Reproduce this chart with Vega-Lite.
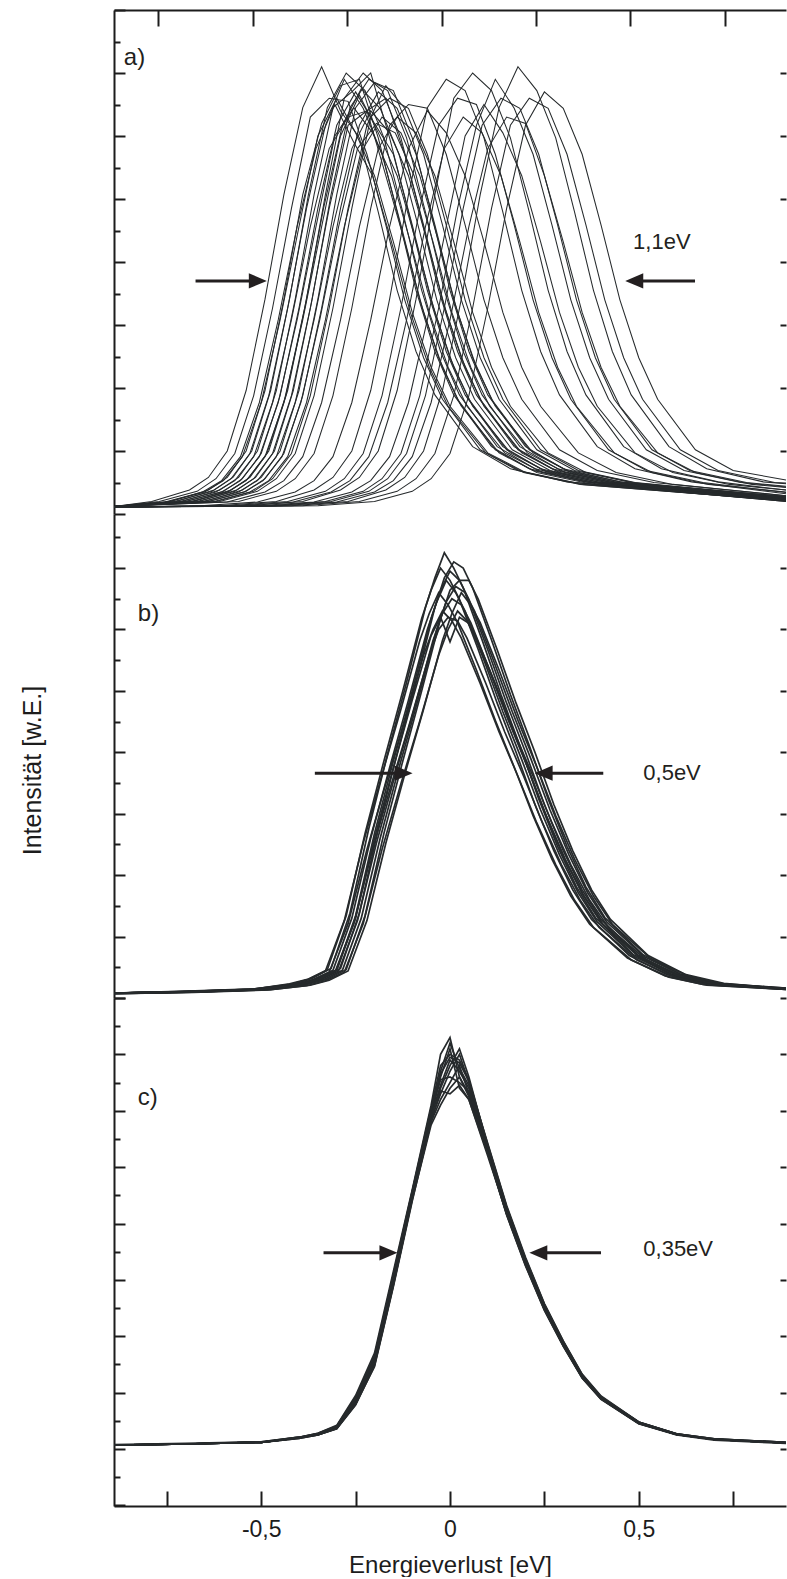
{
"$schema": "https://vega.github.io/schema/vega-lite/v6.json",
"background": "white",
"padding": {"left": 20, "top": 9, "right": 0, "bottom": 0},
"spacing": 0,
"bounds": "flush",
"config": {
  "view": {"stroke": null},
  "font": "Liberation Sans",
  "axis": {"grid": false, "domainColor": "#1c1c1c", "domainWidth": 2, "tickColor": "#1c1c1c", "tickWidth": 2, "labelColor": "#1c1c1c", "titleColor": "#1c1c1c", "titleFontWeight": "normal", "labelFont": "Liberation Sans", "titleFont": "Liberation Sans"}
},
"datasets": {
"txt": [
 {"p":"a","k":"p","x":-0.864,"y":72.4,"t":"a)"},
 {"p":"a","k":"w","x":0.485,"y":43.2,"t":"1,1eV"},
 {"p":"b","k":"p","x":-0.827,"y":62.5,"t":"b)"},
 {"p":"b","k":"w","x":0.512,"y":36.6,"t":"0,5eV"},
 {"p":"c","k":"p","x":-0.827,"y":62.2,"t":"c)"},
 {"p":"c","k":"w","x":0.512,"y":35.5,"t":"0,35eV"}
],
"arr": [
 {"p":"a","x1":-0.674,"x2":-0.509,"y":37,"dir":"r"},
 {"p":"a","x1":0.649,"x2":0.488,"y":37,"dir":"l"},
 {"p":"b","x1":-0.358,"x2":-0.123,"y":36.6,"dir":"r"},
 {"p":"b","x1":0.406,"x2":0.248,"y":36.6,"dir":"l"},
 {"p":"c","x1":-0.335,"x2":-0.163,"y":34.8,"dir":"r"},
 {"p":"c","x1":0.40,"x2":0.234,"y":34.8,"dir":"l"}
],
"a": [
{"c":1,"x":-0.89,"y":1.2},{"c":1,"x":-0.79,"y":2.0},{"c":1,"x":-0.69,"y":3.8},{"c":1,"x":-0.64,"y":5.8},{"c":1,"x":-0.59,"y":10},{"c":1,"x":-0.54,"y":19.6},{"c":1,"x":-0.49,"y":34.1},{"c":1,"x":-0.44,"y":50.7},{"c":1,"x":-0.39,"y":64.5},{"c":1,"x":-0.34,"y":71},{"c":1,"x":-0.29,"y":64},{"c":1,"x":-0.24,"y":59.7},{"c":1,"x":-0.19,"y":47.9},{"c":1,"x":-0.14,"y":35.5},{"c":1,"x":-0.09,"y":25.8},{"c":1,"x":-0.04,"y":18.9},{"c":1,"x":0.06,"y":10.7},{"c":1,"x":0.16,"y":7.2},{"c":1,"x":0.31,"y":5.1},{"c":1,"x":0.89,"y":2.0},
{"c":2,"x":-0.89,"y":1.2},{"c":2,"x":-0.77,"y":2.0},{"c":2,"x":-0.67,"y":3.6},{"c":2,"x":-0.62,"y":5.6},{"c":2,"x":-0.57,"y":9.6},{"c":2,"x":-0.52,"y":18.8},{"c":2,"x":-0.47,"y":32.7},{"c":2,"x":-0.42,"y":48.5},{"c":2,"x":-0.37,"y":63},{"c":2,"x":-0.32,"y":66},{"c":2,"x":-0.27,"y":65.5},{"c":2,"x":-0.22,"y":57.1},{"c":2,"x":-0.17,"y":45.9},{"c":2,"x":-0.12,"y":34},{"c":2,"x":-0.07,"y":24.8},{"c":2,"x":-0.02,"y":18.2},{"c":2,"x":0.08,"y":10.2},{"c":2,"x":0.18,"y":6.9},{"c":2,"x":0.33,"y":5.0},{"c":2,"x":0.89,"y":2.0},
{"c":3,"x":-0.89,"y":1.2},{"c":3,"x":-0.75,"y":1.9},{"c":3,"x":-0.65,"y":3.5},{"c":3,"x":-0.6,"y":5.3},{"c":3,"x":-0.55,"y":9.1},{"c":3,"x":-0.5,"y":17.7},{"c":3,"x":-0.45,"y":30.8},{"c":3,"x":-0.4,"y":45.6},{"c":3,"x":-0.35,"y":60},{"c":3,"x":-0.3,"y":66},{"c":3,"x":-0.25,"y":60.5},{"c":3,"x":-0.2,"y":53.7},{"c":3,"x":-0.15,"y":43.2},{"c":3,"x":-0.1,"y":32},{"c":3,"x":-0.05,"y":23.3},{"c":3,"x":0,"y":17.1},{"c":3,"x":0.1,"y":9.7},{"c":3,"x":0.2,"y":6.6},{"c":3,"x":0.35,"y":4.7},{"c":3,"x":0.89,"y":2.1},
{"c":4,"x":-0.89,"y":1.2},{"c":4,"x":-0.74,"y":2.0},{"c":4,"x":-0.64,"y":3.8},{"c":4,"x":-0.59,"y":5.8},{"c":4,"x":-0.54,"y":10},{"c":4,"x":-0.49,"y":19.6},{"c":4,"x":-0.44,"y":34.1},{"c":4,"x":-0.39,"y":50.7},{"c":4,"x":-0.34,"y":62},{"c":4,"x":-0.29,"y":68},{"c":4,"x":-0.24,"y":69},{"c":4,"x":-0.19,"y":59.7},{"c":4,"x":-0.14,"y":47.9},{"c":4,"x":-0.09,"y":35.5},{"c":4,"x":-0.04,"y":25.8},{"c":4,"x":0.01,"y":18.9},{"c":4,"x":0.11,"y":10.7},{"c":4,"x":0.21,"y":7.2},{"c":4,"x":0.36,"y":5.1},{"c":4,"x":0.89,"y":2.2},
{"c":5,"x":-0.89,"y":1.2},{"c":5,"x":-0.73,"y":2.0},{"c":5,"x":-0.63,"y":3.6},{"c":5,"x":-0.58,"y":5.6},{"c":5,"x":-0.53,"y":9.6},{"c":5,"x":-0.48,"y":18.8},{"c":5,"x":-0.43,"y":32.7},{"c":5,"x":-0.38,"y":48.5},{"c":5,"x":-0.33,"y":61.7},{"c":5,"x":-0.28,"y":69},{"c":5,"x":-0.23,"y":64.4},{"c":5,"x":-0.18,"y":57.1},{"c":5,"x":-0.13,"y":45.9},{"c":5,"x":-0.08,"y":34},{"c":5,"x":-0.03,"y":24.8},{"c":5,"x":0.02,"y":18.2},{"c":5,"x":0.12,"y":10.2},{"c":5,"x":0.22,"y":6.9},{"c":5,"x":0.37,"y":5.0},{"c":5,"x":0.89,"y":2.2},
{"c":6,"x":-0.89,"y":1.2},{"c":6,"x":-0.72,"y":1.9},{"c":6,"x":-0.62,"y":3.5},{"c":6,"x":-0.57,"y":5.3},{"c":6,"x":-0.52,"y":9.1},{"c":6,"x":-0.47,"y":17.7},{"c":6,"x":-0.42,"y":30.8},{"c":6,"x":-0.37,"y":45.6},{"c":6,"x":-0.32,"y":58},{"c":6,"x":-0.27,"y":63},{"c":6,"x":-0.22,"y":64},{"c":6,"x":-0.17,"y":53.7},{"c":6,"x":-0.12,"y":43.2},{"c":6,"x":-0.07,"y":32},{"c":6,"x":-0.02,"y":23.3},{"c":6,"x":0.03,"y":17.1},{"c":6,"x":0.13,"y":9.7},{"c":6,"x":0.23,"y":6.6},{"c":6,"x":0.38,"y":4.7},{"c":6,"x":0.89,"y":2.2},
{"c":7,"x":-0.89,"y":1.2},{"c":7,"x":-0.71,"y":2.0},{"c":7,"x":-0.61,"y":3.8},{"c":7,"x":-0.56,"y":5.8},{"c":7,"x":-0.51,"y":10},{"c":7,"x":-0.46,"y":19.6},{"c":7,"x":-0.41,"y":34.1},{"c":7,"x":-0.36,"y":50.7},{"c":7,"x":-0.31,"y":64.5},{"c":7,"x":-0.26,"y":67},{"c":7,"x":-0.21,"y":70},{"c":7,"x":-0.16,"y":59.7},{"c":7,"x":-0.11,"y":47.9},{"c":7,"x":-0.06,"y":35.5},{"c":7,"x":-0.01,"y":25.8},{"c":7,"x":0.04,"y":18.9},{"c":7,"x":0.14,"y":10.7},{"c":7,"x":0.24,"y":7.2},{"c":7,"x":0.39,"y":5.1},{"c":7,"x":0.89,"y":2.3},
{"c":8,"x":-0.89,"y":1.2},{"c":8,"x":-0.7,"y":2.0},{"c":8,"x":-0.6,"y":3.6},{"c":8,"x":-0.55,"y":5.6},{"c":8,"x":-0.5,"y":9.6},{"c":8,"x":-0.45,"y":18.8},{"c":8,"x":-0.4,"y":32.7},{"c":8,"x":-0.35,"y":48.5},{"c":8,"x":-0.3,"y":61.7},{"c":8,"x":-0.25,"y":67},{"c":8,"x":-0.2,"y":62},{"c":8,"x":-0.15,"y":57.1},{"c":8,"x":-0.1,"y":45.9},{"c":8,"x":-0.05,"y":34},{"c":8,"x":0,"y":24.8},{"c":8,"x":0.05,"y":18.2},{"c":8,"x":0.15,"y":10.2},{"c":8,"x":0.25,"y":6.9},{"c":8,"x":0.4,"y":5.0},{"c":8,"x":0.89,"y":2.3},
{"c":9,"x":-0.89,"y":1.2},{"c":9,"x":-0.69,"y":1.9},{"c":9,"x":-0.59,"y":3.5},{"c":9,"x":-0.54,"y":5.3},{"c":9,"x":-0.49,"y":9.1},{"c":9,"x":-0.44,"y":17.7},{"c":9,"x":-0.39,"y":30.8},{"c":9,"x":-0.34,"y":45.6},{"c":9,"x":-0.29,"y":60},{"c":9,"x":-0.24,"y":66.5},{"c":9,"x":-0.19,"y":60.5},{"c":9,"x":-0.14,"y":53.7},{"c":9,"x":-0.09,"y":43.2},{"c":9,"x":-0.04,"y":32},{"c":9,"x":0.01,"y":23.3},{"c":9,"x":0.06,"y":17.1},{"c":9,"x":0.16,"y":9.7},{"c":9,"x":0.26,"y":6.6},{"c":9,"x":0.41,"y":4.7},{"c":9,"x":0.89,"y":2.3},
{"c":10,"x":-0.89,"y":1.2},{"c":10,"x":-0.68,"y":2.0},{"c":10,"x":-0.58,"y":3.8},{"c":10,"x":-0.53,"y":5.8},{"c":10,"x":-0.48,"y":10},{"c":10,"x":-0.43,"y":19.6},{"c":10,"x":-0.38,"y":34.1},{"c":10,"x":-0.33,"y":50.7},{"c":10,"x":-0.28,"y":66},{"c":10,"x":-0.23,"y":70},{"c":10,"x":-0.18,"y":67.2},{"c":10,"x":-0.13,"y":59.7},{"c":10,"x":-0.08,"y":47.9},{"c":10,"x":-0.03,"y":35.5},{"c":10,"x":0.02,"y":25.8},{"c":10,"x":0.07,"y":18.9},{"c":10,"x":0.17,"y":10.7},{"c":10,"x":0.27,"y":7.2},{"c":10,"x":0.42,"y":5.1},{"c":10,"x":0.89,"y":2.4},
{"c":11,"x":-0.89,"y":1.2},{"c":11,"x":-0.67,"y":2.0},{"c":11,"x":-0.57,"y":3.6},{"c":11,"x":-0.52,"y":5.6},{"c":11,"x":-0.47,"y":9.6},{"c":11,"x":-0.42,"y":18.8},{"c":11,"x":-0.37,"y":32.7},{"c":11,"x":-0.32,"y":48.5},{"c":11,"x":-0.27,"y":61.7},{"c":11,"x":-0.22,"y":64},{"c":11,"x":-0.17,"y":66},{"c":11,"x":-0.12,"y":57.1},{"c":11,"x":-0.07,"y":45.9},{"c":11,"x":-0.02,"y":34},{"c":11,"x":0.03,"y":24.8},{"c":11,"x":0.08,"y":18.2},{"c":11,"x":0.18,"y":10.2},{"c":11,"x":0.28,"y":6.9},{"c":11,"x":0.43,"y":5.0},{"c":11,"x":0.89,"y":2.4},
{"c":12,"x":-0.89,"y":1.2},{"c":12,"x":-0.66,"y":1.9},{"c":12,"x":-0.56,"y":3.5},{"c":12,"x":-0.51,"y":5.3},{"c":12,"x":-0.46,"y":9.1},{"c":12,"x":-0.41,"y":17.7},{"c":12,"x":-0.36,"y":30.8},{"c":12,"x":-0.31,"y":45.6},{"c":12,"x":-0.26,"y":58},{"c":12,"x":-0.21,"y":64},{"c":12,"x":-0.16,"y":60.5},{"c":12,"x":-0.11,"y":53.7},{"c":12,"x":-0.06,"y":43.2},{"c":12,"x":-0.01,"y":32},{"c":12,"x":0.04,"y":23.3},{"c":12,"x":0.09,"y":17.1},{"c":12,"x":0.19,"y":9.7},{"c":12,"x":0.29,"y":6.6},{"c":12,"x":0.44,"y":4.7},{"c":12,"x":0.89,"y":2.5},
{"c":13,"x":-0.89,"y":1.2},{"c":13,"x":-0.65,"y":2.0},{"c":13,"x":-0.55,"y":3.8},{"c":13,"x":-0.5,"y":5.8},{"c":13,"x":-0.45,"y":10},{"c":13,"x":-0.4,"y":19.6},{"c":13,"x":-0.35,"y":34.1},{"c":13,"x":-0.3,"y":50.7},{"c":13,"x":-0.25,"y":64.5},{"c":13,"x":-0.2,"y":68.5},{"c":13,"x":-0.15,"y":67.2},{"c":13,"x":-0.1,"y":59.7},{"c":13,"x":-0.05,"y":47.9},{"c":13,"x":0,"y":35.5},{"c":13,"x":0.05,"y":25.8},{"c":13,"x":0.1,"y":18.9},{"c":13,"x":0.2,"y":10.7},{"c":13,"x":0.3,"y":7.2},{"c":13,"x":0.45,"y":5.1},{"c":13,"x":0.89,"y":2.5},
{"c":14,"x":-0.89,"y":1.2},{"c":14,"x":-0.64,"y":2.0},{"c":14,"x":-0.54,"y":3.6},{"c":14,"x":-0.49,"y":5.6},{"c":14,"x":-0.44,"y":9.6},{"c":14,"x":-0.39,"y":18.8},{"c":14,"x":-0.34,"y":32.7},{"c":14,"x":-0.29,"y":48.5},{"c":14,"x":-0.24,"y":61.7},{"c":14,"x":-0.19,"y":67},{"c":14,"x":-0.14,"y":64.4},{"c":14,"x":-0.09,"y":57.1},{"c":14,"x":-0.04,"y":45.9},{"c":14,"x":0.01,"y":34},{"c":14,"x":0.06,"y":24.8},{"c":14,"x":0.11,"y":18.2},{"c":14,"x":0.21,"y":10.2},{"c":14,"x":0.31,"y":6.9},{"c":14,"x":0.46,"y":5.0},{"c":14,"x":0.89,"y":2.6},
{"c":15,"x":-0.89,"y":1.2},{"c":15,"x":-0.63,"y":1.9},{"c":15,"x":-0.53,"y":3.5},{"c":15,"x":-0.48,"y":5.3},{"c":15,"x":-0.43,"y":9.1},{"c":15,"x":-0.38,"y":17.7},{"c":15,"x":-0.33,"y":30.8},{"c":15,"x":-0.28,"y":45.6},{"c":15,"x":-0.23,"y":58},{"c":15,"x":-0.18,"y":63},{"c":15,"x":-0.13,"y":60.5},{"c":15,"x":-0.08,"y":53.7},{"c":15,"x":-0.03,"y":43.2},{"c":15,"x":0.02,"y":32},{"c":15,"x":0.07,"y":23.3},{"c":15,"x":0.12,"y":17.1},{"c":15,"x":0.22,"y":9.7},{"c":15,"x":0.32,"y":6.6},{"c":15,"x":0.47,"y":4.7},{"c":15,"x":0.89,"y":2.6},
{"c":16,"x":-0.89,"y":1.2},{"c":16,"x":-0.61,"y":2.0},{"c":16,"x":-0.51,"y":3.6},{"c":16,"x":-0.46,"y":5.6},{"c":16,"x":-0.41,"y":9.6},{"c":16,"x":-0.36,"y":18.8},{"c":16,"x":-0.31,"y":32.7},{"c":16,"x":-0.26,"y":48.5},{"c":16,"x":-0.21,"y":63},{"c":16,"x":-0.16,"y":66},{"c":16,"x":-0.11,"y":64.4},{"c":16,"x":-0.06,"y":57.1},{"c":16,"x":-0.01,"y":45.9},{"c":16,"x":0.04,"y":34},{"c":16,"x":0.09,"y":24.8},{"c":16,"x":0.14,"y":18.2},{"c":16,"x":0.24,"y":10.2},{"c":16,"x":0.34,"y":6.9},{"c":16,"x":0.49,"y":5.0},{"c":16,"x":0.89,"y":2.7},
{"c":17,"x":-0.89,"y":1.2},{"c":17,"x":-0.59,"y":1.9},{"c":17,"x":-0.49,"y":3.5},{"c":17,"x":-0.44,"y":5.3},{"c":17,"x":-0.39,"y":9.1},{"c":17,"x":-0.34,"y":17.7},{"c":17,"x":-0.29,"y":30.8},{"c":17,"x":-0.24,"y":45.6},{"c":17,"x":-0.19,"y":58},{"c":17,"x":-0.14,"y":63},{"c":17,"x":-0.09,"y":60.5},{"c":17,"x":-0.04,"y":53.7},{"c":17,"x":0.01,"y":43.2},{"c":17,"x":0.06,"y":32},{"c":17,"x":0.11,"y":23.3},{"c":17,"x":0.16,"y":17.1},{"c":17,"x":0.26,"y":9.7},{"c":17,"x":0.36,"y":6.6},{"c":17,"x":0.51,"y":4.7},{"c":17,"x":0.89,"y":2.8},
{"c":18,"x":-0.89,"y":1.2},{"c":18,"x":-0.56,"y":2.0},{"c":18,"x":-0.46,"y":3.6},{"c":18,"x":-0.41,"y":5.6},{"c":18,"x":-0.36,"y":9.6},{"c":18,"x":-0.31,"y":18.8},{"c":18,"x":-0.26,"y":32.7},{"c":18,"x":-0.21,"y":48.5},{"c":18,"x":-0.16,"y":61.7},{"c":18,"x":-0.11,"y":65},{"c":18,"x":-0.06,"y":64.4},{"c":18,"x":-0.01,"y":57.1},{"c":18,"x":0.04,"y":45.9},{"c":18,"x":0.09,"y":34},{"c":18,"x":0.14,"y":24.8},{"c":18,"x":0.19,"y":18.2},{"c":18,"x":0.29,"y":10.2},{"c":18,"x":0.39,"y":6.9},{"c":18,"x":0.54,"y":5.0},{"c":18,"x":0.89,"y":2.9},
{"c":19,"x":-0.89,"y":1.1},{"c":19,"x":-0.66,"y":1.3},{"c":19,"x":-0.51,"y":1.9},{"c":19,"x":-0.41,"y":3.5},{"c":19,"x":-0.36,"y":5.3},{"c":19,"x":-0.31,"y":9.1},{"c":19,"x":-0.26,"y":17.7},{"c":19,"x":-0.21,"y":30.8},{"c":19,"x":-0.16,"y":45.6},{"c":19,"x":-0.11,"y":58},{"c":19,"x":-0.06,"y":64},{"c":19,"x":-0.01,"y":60.5},{"c":19,"x":0.04,"y":53.7},{"c":19,"x":0.09,"y":43.2},{"c":19,"x":0.14,"y":32},{"c":19,"x":0.19,"y":23.3},{"c":19,"x":0.24,"y":17.1},{"c":19,"x":0.34,"y":9.7},{"c":19,"x":0.44,"y":6.6},{"c":19,"x":0.59,"y":4.7},{"c":19,"x":0.89,"y":2.9},
{"c":20,"x":-0.89,"y":1.1},{"c":20,"x":-0.61,"y":1.3},{"c":20,"x":-0.46,"y":2.0},{"c":20,"x":-0.36,"y":3.8},{"c":20,"x":-0.31,"y":5.8},{"c":20,"x":-0.26,"y":10},{"c":20,"x":-0.21,"y":19.6},{"c":20,"x":-0.16,"y":34.1},{"c":20,"x":-0.11,"y":50.7},{"c":20,"x":-0.06,"y":64.5},{"c":20,"x":-0.01,"y":69},{"c":20,"x":0.04,"y":67.2},{"c":20,"x":0.09,"y":59.7},{"c":20,"x":0.14,"y":47.9},{"c":20,"x":0.19,"y":35.5},{"c":20,"x":0.24,"y":25.8},{"c":20,"x":0.29,"y":18.9},{"c":20,"x":0.39,"y":10.7},{"c":20,"x":0.49,"y":7.2},{"c":20,"x":0.64,"y":5.1},{"c":20,"x":0.89,"y":3.2},
{"c":21,"x":-0.89,"y":1.1},{"c":21,"x":-0.58,"y":1.3},{"c":21,"x":-0.43,"y":2.0},{"c":21,"x":-0.33,"y":3.6},{"c":21,"x":-0.28,"y":5.6},{"c":21,"x":-0.23,"y":9.6},{"c":21,"x":-0.18,"y":18.8},{"c":21,"x":-0.13,"y":32.7},{"c":21,"x":-0.08,"y":48.5},{"c":21,"x":-0.03,"y":61.7},{"c":21,"x":0.02,"y":66},{"c":21,"x":0.07,"y":65},{"c":21,"x":0.12,"y":57.1},{"c":21,"x":0.17,"y":45.9},{"c":21,"x":0.22,"y":34},{"c":21,"x":0.27,"y":24.8},{"c":21,"x":0.32,"y":18.2},{"c":21,"x":0.42,"y":10.2},{"c":21,"x":0.52,"y":6.9},{"c":21,"x":0.67,"y":5.0},{"c":21,"x":0.89,"y":3.4},
{"c":22,"x":-0.89,"y":1.1},{"c":22,"x":-0.54,"y":1.3},{"c":22,"x":-0.39,"y":2.0},{"c":22,"x":-0.29,"y":3.8},{"c":22,"x":-0.24,"y":5.8},{"c":22,"x":-0.19,"y":10},{"c":22,"x":-0.14,"y":19.6},{"c":22,"x":-0.09,"y":34.1},{"c":22,"x":-0.04,"y":50.7},{"c":22,"x":0.01,"y":66},{"c":22,"x":0.06,"y":70},{"c":22,"x":0.11,"y":67.2},{"c":22,"x":0.16,"y":59.7},{"c":22,"x":0.21,"y":47.9},{"c":22,"x":0.26,"y":35.5},{"c":22,"x":0.31,"y":25.8},{"c":22,"x":0.36,"y":18.9},{"c":22,"x":0.46,"y":10.7},{"c":22,"x":0.56,"y":7.2},{"c":22,"x":0.71,"y":5.1},{"c":22,"x":0.89,"y":3.8},
{"c":23,"x":-0.89,"y":1.1},{"c":23,"x":-0.51,"y":1.3},{"c":23,"x":-0.36,"y":1.9},{"c":23,"x":-0.26,"y":3.5},{"c":23,"x":-0.21,"y":5.3},{"c":23,"x":-0.16,"y":9.1},{"c":23,"x":-0.11,"y":17.7},{"c":23,"x":-0.06,"y":30.8},{"c":23,"x":-0.01,"y":45.6},{"c":23,"x":0.04,"y":60},{"c":23,"x":0.09,"y":65},{"c":23,"x":0.14,"y":60.5},{"c":23,"x":0.19,"y":53.7},{"c":23,"x":0.24,"y":43.2},{"c":23,"x":0.29,"y":32},{"c":23,"x":0.34,"y":23.3},{"c":23,"x":0.39,"y":17.1},{"c":23,"x":0.49,"y":9.7},{"c":23,"x":0.59,"y":6.6},{"c":23,"x":0.74,"y":4.7},{"c":23,"x":0.89,"y":3.8},
{"c":24,"x":-0.89,"y":1.1},{"c":24,"x":-0.48,"y":1.3},{"c":24,"x":-0.33,"y":2.0},{"c":24,"x":-0.23,"y":3.6},{"c":24,"x":-0.18,"y":5.6},{"c":24,"x":-0.13,"y":9.6},{"c":24,"x":-0.08,"y":18.8},{"c":24,"x":-0.03,"y":32.7},{"c":24,"x":0.02,"y":48.5},{"c":24,"x":0.07,"y":61.7},{"c":24,"x":0.12,"y":69},{"c":24,"x":0.17,"y":64.4},{"c":24,"x":0.22,"y":57.1},{"c":24,"x":0.27,"y":45.9},{"c":24,"x":0.32,"y":34},{"c":24,"x":0.37,"y":24.8},{"c":24,"x":0.42,"y":18.2},{"c":24,"x":0.52,"y":10.2},{"c":24,"x":0.62,"y":6.9},{"c":24,"x":0.77,"y":5.0},{"c":24,"x":0.89,"y":4.3},
{"c":25,"x":-0.89,"y":1.1},{"c":25,"x":-0.45,"y":1.3},{"c":25,"x":-0.3,"y":1.9},{"c":25,"x":-0.2,"y":3.5},{"c":25,"x":-0.15,"y":5.3},{"c":25,"x":-0.1,"y":9.1},{"c":25,"x":-0.05,"y":17.7},{"c":25,"x":0,"y":30.8},{"c":25,"x":0.05,"y":45.6},{"c":25,"x":0.1,"y":58},{"c":25,"x":0.15,"y":63},{"c":25,"x":0.2,"y":62},{"c":25,"x":0.25,"y":53.7},{"c":25,"x":0.3,"y":43.2},{"c":25,"x":0.35,"y":32},{"c":25,"x":0.4,"y":23.3},{"c":25,"x":0.45,"y":17.1},{"c":25,"x":0.55,"y":9.7},{"c":25,"x":0.65,"y":6.6},{"c":25,"x":0.8,"y":4.7},{"c":25,"x":0.89,"y":4.2},
{"c":26,"x":-0.89,"y":1.1},{"c":26,"x":-0.42,"y":1.3},{"c":26,"x":-0.27,"y":2.0},{"c":26,"x":-0.17,"y":3.8},{"c":26,"x":-0.12,"y":5.8},{"c":26,"x":-0.07,"y":10},{"c":26,"x":-0.02,"y":19.6},{"c":26,"x":0.03,"y":34.1},{"c":26,"x":0.08,"y":50.7},{"c":26,"x":0.13,"y":64.5},{"c":26,"x":0.18,"y":71},{"c":26,"x":0.23,"y":67.2},{"c":26,"x":0.28,"y":59.7},{"c":26,"x":0.33,"y":47.9},{"c":26,"x":0.38,"y":35.5},{"c":26,"x":0.43,"y":25.8},{"c":26,"x":0.48,"y":18.9},{"c":26,"x":0.58,"y":10.7},{"c":26,"x":0.68,"y":7.2},{"c":26,"x":0.83,"y":5.1},{"c":26,"x":0.89,"y":4.8},
{"c":27,"x":-0.89,"y":1.1},{"c":27,"x":-0.39,"y":1.3},{"c":27,"x":-0.24,"y":2.0},{"c":27,"x":-0.14,"y":3.6},{"c":27,"x":-0.09,"y":5.6},{"c":27,"x":-0.04,"y":9.6},{"c":27,"x":0.01,"y":18.8},{"c":27,"x":0.06,"y":32.7},{"c":27,"x":0.11,"y":48.5},{"c":27,"x":0.16,"y":61.7},{"c":27,"x":0.21,"y":66},{"c":27,"x":0.26,"y":64.4},{"c":27,"x":0.31,"y":57.1},{"c":27,"x":0.36,"y":45.9},{"c":27,"x":0.41,"y":34},{"c":27,"x":0.46,"y":24.8},{"c":27,"x":0.51,"y":18.2},{"c":27,"x":0.61,"y":10.2},{"c":27,"x":0.71,"y":6.9},{"c":27,"x":0.86,"y":5.0},{"c":27,"x":0.89,"y":4.9},
{"c":28,"x":-0.89,"y":1.1},{"c":28,"x":-0.35,"y":1.3},{"c":28,"x":-0.2,"y":2.0},{"c":28,"x":-0.1,"y":3.6},{"c":28,"x":-0.05,"y":5.6},{"c":28,"x":0,"y":9.6},{"c":28,"x":0.05,"y":18.8},{"c":28,"x":0.1,"y":32.7},{"c":28,"x":0.15,"y":48.5},{"c":28,"x":0.2,"y":61.7},{"c":28,"x":0.25,"y":67},{"c":28,"x":0.3,"y":64.4},{"c":28,"x":0.35,"y":57.1},{"c":28,"x":0.4,"y":45.9},{"c":28,"x":0.45,"y":34},{"c":28,"x":0.5,"y":24.8},{"c":28,"x":0.55,"y":18.2},{"c":28,"x":0.65,"y":10.2},{"c":28,"x":0.75,"y":6.9},{"c":28,"x":0.89,"y":5.4},
{"c":29,"x":-0.89,"y":1.2},{"c":29,"x":-0.755,"y":1.9},{"c":29,"x":-0.655,"y":3.5},{"c":29,"x":-0.605,"y":5.3},{"c":29,"x":-0.555,"y":9.1},{"c":29,"x":-0.505,"y":17.7},{"c":29,"x":-0.455,"y":30.8},{"c":29,"x":-0.405,"y":45.6},{"c":29,"x":-0.355,"y":58},{"c":29,"x":-0.305,"y":65},{"c":29,"x":-0.255,"y":59},{"c":29,"x":-0.205,"y":53.7},{"c":29,"x":-0.155,"y":43.2},{"c":29,"x":-0.105,"y":32},{"c":29,"x":-0.055,"y":23.3},{"c":29,"x":-0.005,"y":17.1},{"c":29,"x":0.095,"y":9.7},{"c":29,"x":0.195,"y":6.6},{"c":29,"x":0.345,"y":4.7},{"c":29,"x":0.89,"y":2.1},
{"c":30,"x":-0.89,"y":1.2},{"c":30,"x":-0.725,"y":2.0},{"c":30,"x":-0.625,"y":3.8},{"c":30,"x":-0.575,"y":5.8},{"c":30,"x":-0.525,"y":10},{"c":30,"x":-0.475,"y":19.6},{"c":30,"x":-0.425,"y":34.1},{"c":30,"x":-0.375,"y":50.7},{"c":30,"x":-0.325,"y":64.5},{"c":30,"x":-0.275,"y":70},{"c":30,"x":-0.225,"y":67.2},{"c":30,"x":-0.175,"y":59.7},{"c":30,"x":-0.125,"y":47.9},{"c":30,"x":-0.075,"y":35.5},{"c":30,"x":-0.025,"y":25.8},{"c":30,"x":0.025,"y":18.9},{"c":30,"x":0.125,"y":10.7},{"c":30,"x":0.225,"y":7.2},{"c":30,"x":0.375,"y":5.1},{"c":30,"x":0.89,"y":2.2},
{"c":31,"x":-0.89,"y":1.2},{"c":31,"x":-0.705,"y":1.9},{"c":31,"x":-0.605,"y":3.5},{"c":31,"x":-0.555,"y":5.3},{"c":31,"x":-0.505,"y":9.1},{"c":31,"x":-0.455,"y":17.7},{"c":31,"x":-0.405,"y":30.8},{"c":31,"x":-0.355,"y":45.6},{"c":31,"x":-0.305,"y":60},{"c":31,"x":-0.255,"y":64.5},{"c":31,"x":-0.205,"y":60.5},{"c":31,"x":-0.155,"y":53.7},{"c":31,"x":-0.105,"y":43.2},{"c":31,"x":-0.055,"y":32},{"c":31,"x":-0.005,"y":23.3},{"c":31,"x":0.045,"y":17.1},{"c":31,"x":0.145,"y":9.7},{"c":31,"x":0.245,"y":6.6},{"c":31,"x":0.395,"y":4.7},{"c":31,"x":0.89,"y":2.3},
{"c":32,"x":-0.89,"y":1.2},{"c":32,"x":-0.685,"y":2.0},{"c":32,"x":-0.585,"y":3.6},{"c":32,"x":-0.535,"y":5.6},{"c":32,"x":-0.485,"y":9.6},{"c":32,"x":-0.435,"y":18.8},{"c":32,"x":-0.385,"y":32.7},{"c":32,"x":-0.335,"y":48.5},{"c":32,"x":-0.285,"y":61.7},{"c":32,"x":-0.235,"y":67.5},{"c":32,"x":-0.185,"y":64.4},{"c":32,"x":-0.135,"y":57.1},{"c":32,"x":-0.085,"y":45.9},{"c":32,"x":-0.035,"y":34},{"c":32,"x":0.015,"y":24.8},{"c":32,"x":0.065,"y":18.2},{"c":32,"x":0.165,"y":10.2},{"c":32,"x":0.265,"y":6.9},{"c":32,"x":0.415,"y":5.0},{"c":32,"x":0.89,"y":2.4},
{"c":33,"x":-0.89,"y":1.2},{"c":33,"x":-0.665,"y":2.0},{"c":33,"x":-0.565,"y":3.8},{"c":33,"x":-0.515,"y":5.8},{"c":33,"x":-0.465,"y":10},{"c":33,"x":-0.415,"y":19.6},{"c":33,"x":-0.365,"y":34.1},{"c":33,"x":-0.315,"y":50.7},{"c":33,"x":-0.265,"y":64.5},{"c":33,"x":-0.215,"y":69},{"c":33,"x":-0.165,"y":67.2},{"c":33,"x":-0.115,"y":59.7},{"c":33,"x":-0.065,"y":47.9},{"c":33,"x":-0.015,"y":35.5},{"c":33,"x":0.035,"y":25.8},{"c":33,"x":0.085,"y":18.9},{"c":33,"x":0.185,"y":10.7},{"c":33,"x":0.285,"y":7.2},{"c":33,"x":0.435,"y":5.1},{"c":33,"x":0.89,"y":2.5},
{"c":34,"x":-0.89,"y":1.2},{"c":34,"x":-0.645,"y":1.9},{"c":34,"x":-0.545,"y":3.5},{"c":34,"x":-0.495,"y":5.3},{"c":34,"x":-0.445,"y":9.1},{"c":34,"x":-0.395,"y":17.7},{"c":34,"x":-0.345,"y":30.8},{"c":34,"x":-0.295,"y":45.6},{"c":34,"x":-0.245,"y":58},{"c":34,"x":-0.195,"y":62},{"c":34,"x":-0.145,"y":60.5},{"c":34,"x":-0.095,"y":53.7},{"c":34,"x":-0.045,"y":43.2},{"c":34,"x":0.005,"y":32},{"c":34,"x":0.055,"y":23.3},{"c":34,"x":0.105,"y":17.1},{"c":34,"x":0.205,"y":9.7},{"c":34,"x":0.305,"y":6.6},{"c":34,"x":0.455,"y":4.7},{"c":34,"x":0.89,"y":2.6},
{"c":35,"x":-0.89,"y":1.2},{"c":35,"x":-0.62,"y":2.0},{"c":35,"x":-0.52,"y":3.6},{"c":35,"x":-0.47,"y":5.6},{"c":35,"x":-0.42,"y":9.6},{"c":35,"x":-0.37,"y":18.8},{"c":35,"x":-0.32,"y":32.7},{"c":35,"x":-0.27,"y":48.5},{"c":35,"x":-0.22,"y":61.7},{"c":35,"x":-0.17,"y":68},{"c":35,"x":-0.12,"y":64.4},{"c":35,"x":-0.07,"y":57.1},{"c":35,"x":-0.02,"y":45.9},{"c":35,"x":0.03,"y":34},{"c":35,"x":0.08,"y":24.8},{"c":35,"x":0.13,"y":18.2},{"c":35,"x":0.23,"y":10.2},{"c":35,"x":0.33,"y":6.9},{"c":35,"x":0.48,"y":5.0},{"c":35,"x":0.89,"y":2.7},
{"c":36,"x":-0.89,"y":1.1},{"c":36,"x":-0.465,"y":1.3},{"c":36,"x":-0.315,"y":2.0},{"c":36,"x":-0.215,"y":3.6},{"c":36,"x":-0.165,"y":5.6},{"c":36,"x":-0.115,"y":9.6},{"c":36,"x":-0.065,"y":18.8},{"c":36,"x":-0.015,"y":32.7},{"c":36,"x":0.035,"y":48.5},{"c":36,"x":0.085,"y":61.7},{"c":36,"x":0.135,"y":66},{"c":36,"x":0.185,"y":64.4},{"c":36,"x":0.235,"y":57.1},{"c":36,"x":0.285,"y":45.9},{"c":36,"x":0.335,"y":34},{"c":36,"x":0.385,"y":24.8},{"c":36,"x":0.435,"y":18.2},{"c":36,"x":0.535,"y":10.2},{"c":36,"x":0.635,"y":6.9},{"c":36,"x":0.785,"y":5.0},{"c":36,"x":0.89,"y":4.4},
{"c":37,"x":-0.89,"y":1.1},{"c":37,"x":-0.565,"y":1.3},{"c":37,"x":-0.415,"y":1.9},{"c":37,"x":-0.315,"y":3.5},{"c":37,"x":-0.265,"y":5.3},{"c":37,"x":-0.215,"y":9.1},{"c":37,"x":-0.165,"y":17.7},{"c":37,"x":-0.115,"y":30.8},{"c":37,"x":-0.065,"y":45.6},{"c":37,"x":-0.015,"y":58},{"c":37,"x":0.035,"y":63},{"c":37,"x":0.085,"y":60.5},{"c":37,"x":0.135,"y":53.7},{"c":37,"x":0.185,"y":43.2},{"c":37,"x":0.235,"y":32},{"c":37,"x":0.285,"y":23.3},{"c":37,"x":0.335,"y":17.1},{"c":37,"x":0.435,"y":9.7},{"c":37,"x":0.535,"y":6.6},{"c":37,"x":0.685,"y":4.7},{"c":37,"x":0.89,"y":3.5}
],
"b": [
{"c":1,"x":-0.89,"y":0.8},{"c":1,"x":-0.73,"y":1.0},{"c":1,"x":-0.53,"y":1.4},{"c":1,"x":-0.43,"y":2.1},{"c":1,"x":-0.38,"y":2.9},{"c":1,"x":-0.33,"y":4.4},{"c":1,"x":-0.28,"y":12.6},{"c":1,"x":-0.23,"y":25.2},{"c":1,"x":-0.18,"y":36.4},{"c":1,"x":-0.13,"y":47},{"c":1,"x":-0.08,"y":58.2},{"c":1,"x":-0.055,"y":62.6},{"c":1,"x":-0.03,"y":66},{"c":1,"x":-0.005,"y":64},{"c":1,"x":0.02,"y":61.1},{"c":1,"x":0.07,"y":53.4},{"c":1,"x":0.12,"y":45.2},{"c":1,"x":0.17,"y":37.6},{"c":1,"x":0.22,"y":29.7},{"c":1,"x":0.27,"y":22.6},{"c":1,"x":0.32,"y":16.6},{"c":1,"x":0.37,"y":12},{"c":1,"x":0.47,"y":6.5},{"c":1,"x":0.57,"y":3.6},{"c":1,"x":0.67,"y":2.2},{"c":1,"x":0.89,"y":1.5},
{"c":2,"x":-0.89,"y":0.8},{"c":2,"x":-0.725,"y":1.0},{"c":2,"x":-0.525,"y":1.4},{"c":2,"x":-0.425,"y":2.3},{"c":2,"x":-0.375,"y":3.1},{"c":2,"x":-0.325,"y":4.6},{"c":2,"x":-0.275,"y":13.4},{"c":2,"x":-0.225,"y":26.8},{"c":2,"x":-0.175,"y":38.6},{"c":2,"x":-0.125,"y":50},{"c":2,"x":-0.075,"y":61.8},{"c":2,"x":-0.05,"y":66.4},{"c":2,"x":-0.025,"y":70},{"c":2,"x":0,"y":68},{"c":2,"x":0.025,"y":64.9},{"c":2,"x":0.075,"y":56.7},{"c":2,"x":0.125,"y":48},{"c":2,"x":0.175,"y":40},{"c":2,"x":0.225,"y":31.5},{"c":2,"x":0.275,"y":24},{"c":2,"x":0.325,"y":17.6},{"c":2,"x":0.375,"y":12.8},{"c":2,"x":0.475,"y":6.9},{"c":2,"x":0.575,"y":3.8},{"c":2,"x":0.675,"y":2.4},{"c":2,"x":0.89,"y":1.5},
{"c":3,"x":-0.89,"y":0.7},{"c":3,"x":-0.72,"y":0.9},{"c":3,"x":-0.52,"y":1.3},{"c":3,"x":-0.42,"y":2.0},{"c":3,"x":-0.37,"y":2.8},{"c":3,"x":-0.32,"y":4.2},{"c":3,"x":-0.27,"y":12.1},{"c":3,"x":-0.22,"y":24.2},{"c":3,"x":-0.17,"y":34.9},{"c":3,"x":-0.12,"y":45.1},{"c":3,"x":-0.07,"y":55.8},{"c":3,"x":-0.045,"y":60},{"c":3,"x":-0.02,"y":63},{"c":3,"x":0.005,"y":61.4},{"c":3,"x":0.03,"y":58.6},{"c":3,"x":0.08,"y":51.2},{"c":3,"x":0.13,"y":43.3},{"c":3,"x":0.18,"y":36.1},{"c":3,"x":0.23,"y":28.5},{"c":3,"x":0.28,"y":21.7},{"c":3,"x":0.33,"y":15.9},{"c":3,"x":0.38,"y":11.5},{"c":3,"x":0.48,"y":6.2},{"c":3,"x":0.58,"y":3.4},{"c":3,"x":0.68,"y":2.1},{"c":3,"x":0.89,"y":1.4},
{"c":4,"x":-0.89,"y":0.8},{"c":4,"x":-0.715,"y":1.1},{"c":4,"x":-0.515,"y":1.5},{"c":4,"x":-0.415,"y":2.3},{"c":4,"x":-0.365,"y":3.2},{"c":4,"x":-0.315,"y":4.8},{"c":4,"x":-0.265,"y":13.8},{"c":4,"x":-0.215,"y":27.6},{"c":4,"x":-0.165,"y":39.8},{"c":4,"x":-0.115,"y":51.4},{"c":4,"x":-0.065,"y":63.6},{"c":4,"x":-0.04,"y":68.4},{"c":4,"x":-0.015,"y":72.5},{"c":4,"x":0.01,"y":70},{"c":4,"x":0.035,"y":66.8},{"c":4,"x":0.085,"y":58.3},{"c":4,"x":0.135,"y":49.4},{"c":4,"x":0.185,"y":41.1},{"c":4,"x":0.235,"y":32.4},{"c":4,"x":0.285,"y":24.7},{"c":4,"x":0.335,"y":18.1},{"c":4,"x":0.385,"y":13.1},{"c":4,"x":0.485,"y":7.1},{"c":4,"x":0.585,"y":3.9},{"c":4,"x":0.685,"y":2.4},{"c":4,"x":0.89,"y":1.6},
{"c":5,"x":-0.89,"y":0.8},{"c":5,"x":-0.71,"y":1.0},{"c":5,"x":-0.51,"y":1.4},{"c":5,"x":-0.41,"y":2.2},{"c":5,"x":-0.36,"y":3.0},{"c":5,"x":-0.31,"y":4.5},{"c":5,"x":-0.26,"y":13},{"c":5,"x":-0.21,"y":26},{"c":5,"x":-0.16,"y":37.5},{"c":5,"x":-0.11,"y":48.5},{"c":5,"x":-0.06,"y":60},{"c":5,"x":-0.035,"y":64.5},{"c":5,"x":-0.01,"y":68},{"c":5,"x":0.015,"y":66},{"c":5,"x":0.04,"y":63},{"c":5,"x":0.09,"y":55},{"c":5,"x":0.14,"y":46.6},{"c":5,"x":0.19,"y":38.8},{"c":5,"x":0.24,"y":30.6},{"c":5,"x":0.29,"y":23.3},{"c":5,"x":0.34,"y":17.1},{"c":5,"x":0.39,"y":12.4},{"c":5,"x":0.49,"y":6.7},{"c":5,"x":0.59,"y":3.7},{"c":5,"x":0.69,"y":2.3},{"c":5,"x":0.89,"y":1.5},
{"c":6,"x":-0.89,"y":0.7},{"c":6,"x":-0.705,"y":0.9},{"c":6,"x":-0.505,"y":1.3},{"c":6,"x":-0.405,"y":2.0},{"c":6,"x":-0.355,"y":2.8},{"c":6,"x":-0.305,"y":4.2},{"c":6,"x":-0.255,"y":12.1},{"c":6,"x":-0.205,"y":24.2},{"c":6,"x":-0.155,"y":34.9},{"c":6,"x":-0.105,"y":45.1},{"c":6,"x":-0.055,"y":55.8},{"c":6,"x":-0.03,"y":60},{"c":6,"x":-0.005,"y":62},{"c":6,"x":0.02,"y":61.4},{"c":6,"x":0.045,"y":58.6},{"c":6,"x":0.095,"y":51.2},{"c":6,"x":0.145,"y":43.3},{"c":6,"x":0.195,"y":36.1},{"c":6,"x":0.245,"y":28.5},{"c":6,"x":0.295,"y":21.7},{"c":6,"x":0.345,"y":15.9},{"c":6,"x":0.395,"y":11.5},{"c":6,"x":0.495,"y":6.2},{"c":6,"x":0.595,"y":3.4},{"c":6,"x":0.695,"y":2.1},{"c":6,"x":0.89,"y":1.4},
{"c":7,"x":-0.89,"y":0.8},{"c":7,"x":-0.7,"y":1.0},{"c":7,"x":-0.5,"y":1.4},{"c":7,"x":-0.4,"y":2.3},{"c":7,"x":-0.35,"y":3.1},{"c":7,"x":-0.3,"y":4.6},{"c":7,"x":-0.25,"y":13.4},{"c":7,"x":-0.2,"y":26.8},{"c":7,"x":-0.15,"y":38.6},{"c":7,"x":-0.1,"y":50},{"c":7,"x":-0.05,"y":61.8},{"c":7,"x":-0.025,"y":66.4},{"c":7,"x":0,"y":69.5},{"c":7,"x":0.025,"y":68},{"c":7,"x":0.05,"y":64.9},{"c":7,"x":0.1,"y":56.7},{"c":7,"x":0.15,"y":48},{"c":7,"x":0.2,"y":40},{"c":7,"x":0.25,"y":31.5},{"c":7,"x":0.3,"y":24},{"c":7,"x":0.35,"y":17.6},{"c":7,"x":0.4,"y":12.8},{"c":7,"x":0.5,"y":6.9},{"c":7,"x":0.6,"y":3.8},{"c":7,"x":0.7,"y":2.4},{"c":7,"x":0.89,"y":1.5},
{"c":8,"x":-0.89,"y":0.8},{"c":8,"x":-0.695,"y":1.0},{"c":8,"x":-0.495,"y":1.4},{"c":8,"x":-0.395,"y":2.1},{"c":8,"x":-0.345,"y":2.9},{"c":8,"x":-0.295,"y":4.4},{"c":8,"x":-0.245,"y":12.6},{"c":8,"x":-0.195,"y":25.2},{"c":8,"x":-0.145,"y":36.4},{"c":8,"x":-0.095,"y":47},{"c":8,"x":-0.045,"y":58.2},{"c":8,"x":-0.02,"y":62.6},{"c":8,"x":0.005,"y":65},{"c":8,"x":0.03,"y":64},{"c":8,"x":0.055,"y":61.1},{"c":8,"x":0.105,"y":53.4},{"c":8,"x":0.155,"y":45.2},{"c":8,"x":0.205,"y":37.6},{"c":8,"x":0.255,"y":29.7},{"c":8,"x":0.305,"y":22.6},{"c":8,"x":0.355,"y":16.6},{"c":8,"x":0.405,"y":12},{"c":8,"x":0.505,"y":6.5},{"c":8,"x":0.605,"y":3.6},{"c":8,"x":0.705,"y":2.2},{"c":8,"x":0.89,"y":1.5},
{"c":9,"x":-0.89,"y":0.8},{"c":9,"x":-0.69,"y":1.1},{"c":9,"x":-0.49,"y":1.5},{"c":9,"x":-0.39,"y":2.3},{"c":9,"x":-0.34,"y":3.2},{"c":9,"x":-0.29,"y":4.8},{"c":9,"x":-0.24,"y":13.8},{"c":9,"x":-0.19,"y":27.6},{"c":9,"x":-0.14,"y":39.8},{"c":9,"x":-0.09,"y":51.4},{"c":9,"x":-0.04,"y":63.6},{"c":9,"x":-0.015,"y":68.4},{"c":9,"x":0.01,"y":71},{"c":9,"x":0.035,"y":70},{"c":9,"x":0.06,"y":66.8},{"c":9,"x":0.11,"y":58.3},{"c":9,"x":0.16,"y":49.4},{"c":9,"x":0.21,"y":41.1},{"c":9,"x":0.26,"y":32.4},{"c":9,"x":0.31,"y":24.7},{"c":9,"x":0.36,"y":18.1},{"c":9,"x":0.41,"y":13.1},{"c":9,"x":0.51,"y":7.1},{"c":9,"x":0.61,"y":3.9},{"c":9,"x":0.71,"y":2.4},{"c":9,"x":0.89,"y":1.6},
{"c":10,"x":-0.89,"y":0.8},{"c":10,"x":-0.685,"y":1.0},{"c":10,"x":-0.485,"y":1.4},{"c":10,"x":-0.385,"y":2.2},{"c":10,"x":-0.335,"y":3.0},{"c":10,"x":-0.285,"y":4.5},{"c":10,"x":-0.235,"y":13},{"c":10,"x":-0.185,"y":26},{"c":10,"x":-0.135,"y":37.5},{"c":10,"x":-0.085,"y":48.5},{"c":10,"x":-0.035,"y":60},{"c":10,"x":-0.01,"y":64.5},{"c":10,"x":0.015,"y":67},{"c":10,"x":0.04,"y":66},{"c":10,"x":0.065,"y":63},{"c":10,"x":0.115,"y":55},{"c":10,"x":0.165,"y":46.6},{"c":10,"x":0.215,"y":38.8},{"c":10,"x":0.265,"y":30.6},{"c":10,"x":0.315,"y":23.3},{"c":10,"x":0.365,"y":17.1},{"c":10,"x":0.415,"y":12.4},{"c":10,"x":0.515,"y":6.7},{"c":10,"x":0.615,"y":3.7},{"c":10,"x":0.715,"y":2.3},{"c":10,"x":0.89,"y":1.5},
{"c":11,"x":-0.89,"y":0.7},{"c":11,"x":-0.68,"y":0.9},{"c":11,"x":-0.48,"y":1.3},{"c":11,"x":-0.38,"y":2.0},{"c":11,"x":-0.33,"y":2.8},{"c":11,"x":-0.28,"y":4.2},{"c":11,"x":-0.23,"y":12.1},{"c":11,"x":-0.18,"y":24.2},{"c":11,"x":-0.13,"y":34.9},{"c":11,"x":-0.08,"y":45.1},{"c":11,"x":-0.03,"y":55.8},{"c":11,"x":-0.005,"y":60},{"c":11,"x":0.02,"y":63},{"c":11,"x":0.045,"y":61.4},{"c":11,"x":0.07,"y":58.6},{"c":11,"x":0.12,"y":51.2},{"c":11,"x":0.17,"y":43.3},{"c":11,"x":0.22,"y":36.1},{"c":11,"x":0.27,"y":28.5},{"c":11,"x":0.32,"y":21.7},{"c":11,"x":0.37,"y":15.9},{"c":11,"x":0.42,"y":11.5},{"c":11,"x":0.52,"y":6.2},{"c":11,"x":0.62,"y":3.4},{"c":11,"x":0.72,"y":2.1},{"c":11,"x":0.89,"y":1.4},
{"c":12,"x":-0.89,"y":0.8},{"c":12,"x":-0.675,"y":1.0},{"c":12,"x":-0.475,"y":1.4},{"c":12,"x":-0.375,"y":2.3},{"c":12,"x":-0.325,"y":3.1},{"c":12,"x":-0.275,"y":4.6},{"c":12,"x":-0.225,"y":13.4},{"c":12,"x":-0.175,"y":26.8},{"c":12,"x":-0.125,"y":38.6},{"c":12,"x":-0.075,"y":50},{"c":12,"x":-0.025,"y":61.8},{"c":12,"x":0,"y":66.4},{"c":12,"x":0.025,"y":68},{"c":12,"x":0.05,"y":68},{"c":12,"x":0.075,"y":64.9},{"c":12,"x":0.125,"y":56.7},{"c":12,"x":0.175,"y":48},{"c":12,"x":0.225,"y":40},{"c":12,"x":0.275,"y":31.5},{"c":12,"x":0.325,"y":24},{"c":12,"x":0.375,"y":17.6},{"c":12,"x":0.425,"y":12.8},{"c":12,"x":0.525,"y":6.9},{"c":12,"x":0.625,"y":3.8},{"c":12,"x":0.725,"y":2.4},{"c":12,"x":0.89,"y":1.5},
{"c":13,"x":-0.89,"y":0.8},{"c":13,"x":-0.67,"y":1.0},{"c":13,"x":-0.47,"y":1.4},{"c":13,"x":-0.37,"y":2.1},{"c":13,"x":-0.32,"y":2.9},{"c":13,"x":-0.27,"y":4.4},{"c":13,"x":-0.22,"y":12.6},{"c":13,"x":-0.17,"y":25.2},{"c":13,"x":-0.12,"y":36.4},{"c":13,"x":-0.07,"y":47},{"c":13,"x":-0.02,"y":58.2},{"c":13,"x":0.005,"y":62.6},{"c":13,"x":0.03,"y":66},{"c":13,"x":0.055,"y":64},{"c":13,"x":0.08,"y":61.1},{"c":13,"x":0.13,"y":53.4},{"c":13,"x":0.18,"y":45.2},{"c":13,"x":0.23,"y":37.6},{"c":13,"x":0.28,"y":29.7},{"c":13,"x":0.33,"y":22.6},{"c":13,"x":0.38,"y":16.6},{"c":13,"x":0.43,"y":12},{"c":13,"x":0.53,"y":6.5},{"c":13,"x":0.63,"y":3.6},{"c":13,"x":0.73,"y":2.2},{"c":13,"x":0.89,"y":1.5},
{"c":14,"x":-0.89,"y":0.8},{"c":14,"x":-0.7,"y":1.0},{"c":14,"x":-0.5,"y":1.4},{"c":14,"x":-0.4,"y":2.2},{"c":14,"x":-0.35,"y":3.0},{"c":14,"x":-0.3,"y":4.5},{"c":14,"x":-0.25,"y":13},{"c":14,"x":-0.2,"y":26},{"c":14,"x":-0.15,"y":37.5},{"c":14,"x":-0.1,"y":48.5},{"c":14,"x":-0.05,"y":59},{"c":14,"x":-0.025,"y":62},{"c":14,"x":0,"y":58},{"c":14,"x":0.025,"y":62},{"c":14,"x":0.05,"y":61},{"c":14,"x":0.1,"y":54},{"c":14,"x":0.15,"y":46},{"c":14,"x":0.2,"y":38.5},{"c":14,"x":0.25,"y":30.4},{"c":14,"x":0.3,"y":23.1},{"c":14,"x":0.35,"y":17},{"c":14,"x":0.4,"y":12.3},{"c":14,"x":0.5,"y":6.7},{"c":14,"x":0.6,"y":3.7},{"c":14,"x":0.7,"y":2.3},{"c":14,"x":0.89,"y":1.5}
],
"c": [
{"c":1,"x":-0.89,"y":0.7},{"c":1,"x":-0.7,"y":0.9},{"c":1,"x":-0.5,"y":1.2},{"c":1,"x":-0.4,"y":2.0},{"c":1,"x":-0.35,"y":2.6},{"c":1,"x":-0.3,"y":3.8},{"c":1,"x":-0.25,"y":8.5},{"c":1,"x":-0.2,"y":15.5},{"c":1,"x":-0.15,"y":30},{"c":1,"x":-0.1,"y":45},{"c":1,"x":-0.05,"y":59},{"c":1,"x":-0.025,"y":64.5},{"c":1,"x":0,"y":69},{"c":1,"x":0.025,"y":67},{"c":1,"x":0.05,"y":64},{"c":1,"x":0.1,"y":53},{"c":1,"x":0.15,"y":42},{"c":1,"x":0.2,"y":33},{"c":1,"x":0.25,"y":25},{"c":1,"x":0.3,"y":18.5},{"c":1,"x":0.35,"y":12.8},{"c":1,"x":0.4,"y":9},{"c":1,"x":0.5,"y":4.6},{"c":1,"x":0.6,"y":2.6},{"c":1,"x":0.7,"y":1.7},{"c":1,"x":0.89,"y":1.1},
{"c":2,"x":-0.89,"y":0.7},{"c":2,"x":-0.7,"y":0.9},{"c":2,"x":-0.5,"y":1.3},{"c":2,"x":-0.4,"y":2.1},{"c":2,"x":-0.35,"y":2.8},{"c":2,"x":-0.3,"y":4.2},{"c":2,"x":-0.25,"y":9.5},{"c":2,"x":-0.2,"y":17},{"c":2,"x":-0.15,"y":31.5},{"c":2,"x":-0.1,"y":46},{"c":2,"x":-0.05,"y":61},{"c":2,"x":-0.025,"y":70},{"c":2,"x":0,"y":73},{"c":2,"x":0.025,"y":66},{"c":2,"x":0.05,"y":63},{"c":2,"x":0.1,"y":52.5},{"c":2,"x":0.15,"y":41.5},{"c":2,"x":0.2,"y":32.5},{"c":2,"x":0.25,"y":24.6},{"c":2,"x":0.3,"y":18.2},{"c":2,"x":0.35,"y":12.6},{"c":2,"x":0.4,"y":8.9},{"c":2,"x":0.5,"y":4.5},{"c":2,"x":0.6,"y":2.6},{"c":2,"x":0.7,"y":1.7},{"c":2,"x":0.89,"y":1.1},
{"c":3,"x":-0.89,"y":0.7},{"c":3,"x":-0.7,"y":0.9},{"c":3,"x":-0.5,"y":1.2},{"c":3,"x":-0.4,"y":1.9},{"c":3,"x":-0.35,"y":2.5},{"c":3,"x":-0.3,"y":3.6},{"c":3,"x":-0.25,"y":7.8},{"c":3,"x":-0.2,"y":14.8},{"c":3,"x":-0.15,"y":29},{"c":3,"x":-0.1,"y":44.5},{"c":3,"x":-0.05,"y":58},{"c":3,"x":-0.025,"y":62},{"c":3,"x":0,"y":65},{"c":3,"x":0.025,"y":68},{"c":3,"x":0.05,"y":63},{"c":3,"x":0.1,"y":53.5},{"c":3,"x":0.15,"y":42.5},{"c":3,"x":0.2,"y":33.4},{"c":3,"x":0.25,"y":25.4},{"c":3,"x":0.3,"y":18.8},{"c":3,"x":0.35,"y":13},{"c":3,"x":0.4,"y":9.2},{"c":3,"x":0.5,"y":4.7},{"c":3,"x":0.6,"y":2.7},{"c":3,"x":0.7,"y":1.7},{"c":3,"x":0.89,"y":1.1},
{"c":4,"x":-0.89,"y":0.7},{"c":4,"x":-0.7,"y":0.9},{"c":4,"x":-0.5,"y":1.2},{"c":4,"x":-0.4,"y":2.0},{"c":4,"x":-0.35,"y":2.7},{"c":4,"x":-0.3,"y":4.0},{"c":4,"x":-0.25,"y":9},{"c":4,"x":-0.2,"y":16},{"c":4,"x":-0.15,"y":30.5},{"c":4,"x":-0.1,"y":45.5},{"c":4,"x":-0.05,"y":60},{"c":4,"x":-0.025,"y":66},{"c":4,"x":0,"y":71},{"c":4,"x":0.025,"y":64},{"c":4,"x":0.05,"y":62},{"c":4,"x":0.1,"y":52},{"c":4,"x":0.15,"y":41.8},{"c":4,"x":0.2,"y":32.8},{"c":4,"x":0.25,"y":24.8},{"c":4,"x":0.3,"y":18.4},{"c":4,"x":0.35,"y":12.7},{"c":4,"x":0.4,"y":8.9},{"c":4,"x":0.5,"y":4.6},{"c":4,"x":0.6,"y":2.6},{"c":4,"x":0.7,"y":1.7},{"c":4,"x":0.89,"y":1.1},
{"c":5,"x":-0.89,"y":0.7},{"c":5,"x":-0.7,"y":0.9},{"c":5,"x":-0.5,"y":1.2},{"c":5,"x":-0.4,"y":2.0},{"c":5,"x":-0.35,"y":2.6},{"c":5,"x":-0.3,"y":3.7},{"c":5,"x":-0.25,"y":8.2},{"c":5,"x":-0.2,"y":15.2},{"c":5,"x":-0.15,"y":29.5},{"c":5,"x":-0.1,"y":44.8},{"c":5,"x":-0.05,"y":58.5},{"c":5,"x":-0.025,"y":63},{"c":5,"x":0,"y":67},{"c":5,"x":0.025,"y":70},{"c":5,"x":0.05,"y":65},{"c":5,"x":0.1,"y":53.8},{"c":5,"x":0.15,"y":42.8},{"c":5,"x":0.2,"y":33.6},{"c":5,"x":0.25,"y":25.5},{"c":5,"x":0.3,"y":19},{"c":5,"x":0.35,"y":13.1},{"c":5,"x":0.4,"y":9.2},{"c":5,"x":0.5,"y":4.8},{"c":5,"x":0.6,"y":2.7},{"c":5,"x":0.7,"y":1.8},{"c":5,"x":0.89,"y":1.2},
{"c":6,"x":-0.89,"y":0.7},{"c":6,"x":-0.7,"y":0.9},{"c":6,"x":-0.5,"y":1.2},{"c":6,"x":-0.4,"y":2.1},{"c":6,"x":-0.35,"y":2.7},{"c":6,"x":-0.3,"y":3.9},{"c":6,"x":-0.25,"y":8.8},{"c":6,"x":-0.2,"y":15.8},{"c":6,"x":-0.15,"y":30.2},{"c":6,"x":-0.1,"y":45.2},{"c":6,"x":-0.05,"y":59.5},{"c":6,"x":-0.025,"y":65.5},{"c":6,"x":0,"y":66},{"c":6,"x":0.025,"y":65},{"c":6,"x":0.05,"y":63.5},{"c":6,"x":0.1,"y":53.2},{"c":6,"x":0.15,"y":42.2},{"c":6,"x":0.2,"y":33.2},{"c":6,"x":0.25,"y":25.2},{"c":6,"x":0.3,"y":18.6},{"c":6,"x":0.35,"y":12.9},{"c":6,"x":0.4,"y":9.1},{"c":6,"x":0.5,"y":4.6},{"c":6,"x":0.6,"y":2.6},{"c":6,"x":0.7,"y":1.7},{"c":6,"x":0.89,"y":1.1},
{"c":7,"x":-0.89,"y":0.7},{"c":7,"x":-0.7,"y":0.9},{"c":7,"x":-0.5,"y":1.2},{"c":7,"x":-0.4,"y":2.0},{"c":7,"x":-0.35,"y":2.6},{"c":7,"x":-0.3,"y":3.8},{"c":7,"x":-0.25,"y":8.4},{"c":7,"x":-0.2,"y":15.4},{"c":7,"x":-0.15,"y":30},{"c":7,"x":-0.1,"y":45},{"c":7,"x":-0.05,"y":59.5},{"c":7,"x":-0.025,"y":67},{"c":7,"x":0,"y":72},{"c":7,"x":0.025,"y":67.5},{"c":7,"x":0.05,"y":64.5},{"c":7,"x":0.1,"y":53.5},{"c":7,"x":0.15,"y":42.4},{"c":7,"x":0.2,"y":33.3},{"c":7,"x":0.25,"y":25.3},{"c":7,"x":0.3,"y":18.7},{"c":7,"x":0.35,"y":13},{"c":7,"x":0.4,"y":9.1},{"c":7,"x":0.5,"y":4.7},{"c":7,"x":0.6,"y":2.6},{"c":7,"x":0.7,"y":1.7},{"c":7,"x":0.89,"y":1.1},
{"c":8,"x":-0.89,"y":0.7},{"c":8,"x":-0.7,"y":0.9},{"c":8,"x":-0.5,"y":1.2},{"c":8,"x":-0.4,"y":2.0},{"c":8,"x":-0.35,"y":2.5},{"c":8,"x":-0.3,"y":3.7},{"c":8,"x":-0.25,"y":8.0},{"c":8,"x":-0.2,"y":15.0},{"c":8,"x":-0.15,"y":29.2},{"c":8,"x":-0.1,"y":44.2},{"c":8,"x":-0.05,"y":57.5},{"c":8,"x":-0.025,"y":61},{"c":8,"x":0,"y":64},{"c":8,"x":0.025,"y":66},{"c":8,"x":0.05,"y":62.5},{"c":8,"x":0.1,"y":52.6},{"c":8,"x":0.15,"y":41.8},{"c":8,"x":0.2,"y":32.8},{"c":8,"x":0.25,"y":24.9},{"c":8,"x":0.3,"y":18.4},{"c":8,"x":0.35,"y":12.8},{"c":8,"x":0.4,"y":9},{"c":8,"x":0.5,"y":4.6},{"c":8,"x":0.6,"y":2.6},{"c":8,"x":0.7,"y":1.7},{"c":8,"x":0.89,"y":1.1},
{"c":9,"x":-0.89,"y":0.8},{"c":9,"x":-0.7,"y":1.0},{"c":9,"x":-0.5,"y":1.3},{"c":9,"x":-0.4,"y":2.1},{"c":9,"x":-0.35,"y":2.8},{"c":9,"x":-0.3,"y":4.1},{"c":9,"x":-0.25,"y":9.2},{"c":9,"x":-0.2,"y":16.5},{"c":9,"x":-0.15,"y":31},{"c":9,"x":-0.1,"y":45.8},{"c":9,"x":-0.05,"y":60.5},{"c":9,"x":-0.025,"y":68},{"c":9,"x":0,"y":70},{"c":9,"x":0.025,"y":69},{"c":9,"x":0.05,"y":65.5},{"c":9,"x":0.1,"y":54},{"c":9,"x":0.15,"y":43},{"c":9,"x":0.2,"y":33.8},{"c":9,"x":0.25,"y":25.7},{"c":9,"x":0.3,"y":19.1},{"c":9,"x":0.35,"y":13.2},{"c":9,"x":0.4,"y":9.3},{"c":9,"x":0.5,"y":4.8},{"c":9,"x":0.6,"y":2.7},{"c":9,"x":0.7,"y":1.8},{"c":9,"x":0.89,"y":1.2},
{"c":10,"x":-0.89,"y":0.7},{"c":10,"x":-0.7,"y":0.9},{"c":10,"x":-0.5,"y":1.2},{"c":10,"x":-0.4,"y":2.0},{"c":10,"x":-0.35,"y":2.6},{"c":10,"x":-0.3,"y":3.8},{"c":10,"x":-0.25,"y":8.6},{"c":10,"x":-0.2,"y":15.6},{"c":10,"x":-0.15,"y":30.2},{"c":10,"x":-0.1,"y":45.1},{"c":10,"x":-0.05,"y":59.2},{"c":10,"x":-0.025,"y":64},{"c":10,"x":0,"y":68},{"c":10,"x":0.025,"y":71},{"c":10,"x":0.05,"y":66},{"c":10,"x":0.1,"y":53.6},{"c":10,"x":0.15,"y":42.3},{"c":10,"x":0.2,"y":33.1},{"c":10,"x":0.25,"y":25.1},{"c":10,"x":0.3,"y":18.6},{"c":10,"x":0.35,"y":12.9},{"c":10,"x":0.4,"y":9.1},{"c":10,"x":0.5,"y":4.7},{"c":10,"x":0.6,"y":2.6},{"c":10,"x":0.7,"y":1.7},{"c":10,"x":0.89,"y":1.1},
{"c":11,"x":-0.89,"y":0.7},{"c":11,"x":-0.7,"y":0.9},{"c":11,"x":-0.5,"y":1.2},{"c":11,"x":-0.4,"y":1.9},{"c":11,"x":-0.35,"y":2.5},{"c":11,"x":-0.3,"y":3.6},{"c":11,"x":-0.25,"y":8.0},{"c":11,"x":-0.2,"y":14.6},{"c":11,"x":-0.15,"y":28.8},{"c":11,"x":-0.1,"y":44},{"c":11,"x":-0.05,"y":58.2},{"c":11,"x":-0.025,"y":63.5},{"c":11,"x":0,"y":63},{"c":11,"x":0.025,"y":64.5},{"c":11,"x":0.05,"y":62},{"c":11,"x":0.1,"y":52.4},{"c":11,"x":0.15,"y":41.6},{"c":11,"x":0.2,"y":32.6},{"c":11,"x":0.25,"y":24.7},{"c":11,"x":0.3,"y":18.3},{"c":11,"x":0.35,"y":12.6},{"c":11,"x":0.4,"y":8.8},{"c":11,"x":0.5,"y":4.5},{"c":11,"x":0.6,"y":2.5},{"c":11,"x":0.7,"y":1.6},{"c":11,"x":0.89,"y":1.0},
{"c":12,"x":-0.89,"y":0.7},{"c":12,"x":-0.7,"y":0.9},{"c":12,"x":-0.5,"y":1.2},{"c":12,"x":-0.4,"y":2.0},{"c":12,"x":-0.35,"y":2.7},{"c":12,"x":-0.3,"y":4.0},{"c":12,"x":-0.25,"y":8.9},{"c":12,"x":-0.2,"y":16.2},{"c":12,"x":-0.15,"y":30.8},{"c":12,"x":-0.1,"y":45.6},{"c":12,"x":-0.05,"y":60.2},{"c":12,"x":-0.025,"y":66.5},{"c":12,"x":0,"y":69.5},{"c":12,"x":0.025,"y":68.5},{"c":12,"x":0.05,"y":65.2},{"c":12,"x":0.1,"y":54.2},{"c":12,"x":0.15,"y":43.2},{"c":12,"x":0.2,"y":34},{"c":12,"x":0.25,"y":25.8},{"c":12,"x":0.3,"y":19.2},{"c":12,"x":0.35,"y":13.3},{"c":12,"x":0.4,"y":9.4},{"c":12,"x":0.5,"y":4.8},{"c":12,"x":0.6,"y":2.7},{"c":12,"x":0.7,"y":1.8},{"c":12,"x":0.89,"y":1.2}
]
},
"vconcat": [
{
 "width": 672, "height": 504,
 "resolve": {"axis": {"y": "independent"}},
 "layer": [
  {"data": {"name": "a"}, "mark": {"type": "line", "clip": true, "stroke": "#262a2c", "strokeWidth": 1.05},
   "encoding": {
    "x": {"field": "x", "type": "quantitative", "scale": {"domain": [-0.89, 0.89], "nice": false, "zero": false},
          "axis": {"orient": "top", "values": [-0.75,-0.5,-0.25,0,0.25,0.5,0.75], "tickSize": -16, "tickOffset": -8.5, "labels": false, "title": null}},
    "y": {"field": "y", "type": "quantitative", "scale": {"domain": [0, 80], "nice": false, "zero": false},
          "axis": {"orient": "left", "values": [0,10,20,30,40,50,60,70,80], "tickSize": -11, "labels": false, "title": null}},
    "detail": {"field": "c", "type": "nominal"}
   }},
  {"data": {"name": "arr"}, "transform": [{"filter": "datum.p === 'a'"}], "mark": {"type": "rule", "opacity": 0},
   "encoding": {"x": {"field": "x1", "type": "quantitative"}, "x2": {"field": "x2"},
    "y": {"field": "y", "type": "quantitative", "axis": {"orient": "left", "values": [5,15,25,35,45,55,65,75], "tickSize": -6, "domain": false, "labels": false, "title": null}}}},
  {"data": {"name": "arr"}, "transform": [{"filter": "datum.p === 'a'"}], "mark": {"type": "rule", "opacity": 0},
   "encoding": {"x": {"field": "x1", "type": "quantitative"}, "x2": {"field": "x2"},
    "y": {"field": "y", "type": "quantitative", "axis": {"orient": "right", "values": [10,20,30,40,50,60,70], "tickSize": -6, "domain": false, "labels": false, "title": null}}}},
  {"data": {"name": "arr"}, "transform": [{"filter": "datum.p === 'a'"}], "mark": {"type": "rule", "strokeWidth": 3, "color": "#231f20"},
   "encoding": {"x": {"field": "x1", "type": "quantitative"}, "x2": {"field": "x2"}, "y": {"field": "y", "type": "quantitative", "axis": null}}},
  {"data": {"name": "arr"}, "transform": [{"filter": "datum.p === 'a'"}], "mark": {"type": "point", "filled": true, "size": 324, "color": "#231f20", "opacity": 1, "strokeWidth": 0},
   "encoding": {"x": {"field": "x2", "type": "quantitative"}, "y": {"field": "y", "type": "quantitative", "axis": null},
    "shape": {"field": "dir", "type": "nominal", "scale": {"domain": ["r","l"], "range": ["M-1,-0.85L1,0L-1,0.85Z","M1,-0.85L-1,0L1,0.85Z"]}, "legend": null}}},
  {"data": {"name": "txt"}, "transform": [{"filter": "datum.p === 'a' && datum.k === 'p'"}], "mark": {"type": "text", "align": "left", "baseline": "middle", "fontSize": 24, "color": "#231f20"},
   "encoding": {"x": {"field": "x", "type": "quantitative"}, "y": {"field": "y", "type": "quantitative", "axis": null}, "text": {"field": "t"}}},
  {"data": {"name": "txt"}, "transform": [{"filter": "datum.p === 'a' && datum.k === 'w'"}], "mark": {"type": "text", "align": "left", "baseline": "middle", "fontSize": 22, "color": "#231f20"},
   "encoding": {"x": {"field": "x", "type": "quantitative"}, "y": {"field": "y", "type": "quantitative", "axis": null}, "text": {"field": "t"}}}
 ]
},
{
 "width": 672, "height": 484,
 "resolve": {"axis": {"y": "independent"}},
 "layer": [
  {"data": {"name": "b"}, "mark": {"type": "line", "clip": true, "stroke": "#262a2c", "strokeWidth": 1.7},
   "encoding": {
    "x": {"field": "x", "type": "quantitative", "scale": {"domain": [-0.89, 0.89], "nice": false, "zero": false}, "axis": null},
    "y": {"field": "y", "type": "quantitative", "scale": {"domain": [0, 78.8], "nice": false, "zero": false},
          "axis": {"orient": "left", "values": [0,10,20,30,40,50,60,70], "tickSize": -11, "labels": false,
                   "title": "Intensität [w.E.]", "titleFontSize": 25, "titleX": -74, "titleY": 256, "titleBaseline": "alphabetic", "titleAngle": 270, "titleAlign": "center"}},
    "detail": {"field": "c", "type": "nominal"}
   }},
  {"data": {"name": "arr"}, "transform": [{"filter": "datum.p === 'b'"}], "mark": {"type": "rule", "opacity": 0},
   "encoding": {"x": {"field": "x1", "type": "quantitative", "axis": null}, "x2": {"field": "x2"},
    "y": {"field": "y", "type": "quantitative", "axis": {"orient": "left", "values": [5,15,25,35,45,55,65,75], "tickSize": -6, "domain": false, "labels": false, "title": null}}}},
  {"data": {"name": "arr"}, "transform": [{"filter": "datum.p === 'b'"}], "mark": {"type": "rule", "opacity": 0},
   "encoding": {"x": {"field": "x1", "type": "quantitative", "axis": null}, "x2": {"field": "x2"},
    "y": {"field": "y", "type": "quantitative", "axis": {"orient": "right", "values": [0,10,20,30,40,50,60,70], "tickSize": -6, "domain": false, "labels": false, "title": null}}}},
  {"data": {"name": "arr"}, "transform": [{"filter": "datum.p === 'b'"}], "mark": {"type": "rule", "strokeWidth": 3, "color": "#231f20"},
   "encoding": {"x": {"field": "x1", "type": "quantitative", "axis": null}, "x2": {"field": "x2"}, "y": {"field": "y", "type": "quantitative", "axis": null}}},
  {"data": {"name": "arr"}, "transform": [{"filter": "datum.p === 'b'"}], "mark": {"type": "point", "filled": true, "size": 324, "color": "#231f20", "opacity": 1, "strokeWidth": 0},
   "encoding": {"x": {"field": "x2", "type": "quantitative", "axis": null}, "y": {"field": "y", "type": "quantitative", "axis": null},
    "shape": {"field": "dir", "type": "nominal", "scale": {"domain": ["r","l"], "range": ["M-1,-0.85L1,0L-1,0.85Z","M1,-0.85L-1,0L1,0.85Z"]}, "legend": null}}},
  {"data": {"name": "txt"}, "transform": [{"filter": "datum.p === 'b' && datum.k === 'p'"}], "mark": {"type": "text", "align": "left", "baseline": "middle", "fontSize": 24, "color": "#231f20"},
   "encoding": {"x": {"field": "x", "type": "quantitative", "axis": null}, "y": {"field": "y", "type": "quantitative", "axis": null}, "text": {"field": "t"}}},
  {"data": {"name": "txt"}, "transform": [{"filter": "datum.p === 'b' && datum.k === 'w'"}], "mark": {"type": "text", "align": "left", "baseline": "middle", "fontSize": 22, "color": "#231f20"},
   "encoding": {"x": {"field": "x", "type": "quantitative", "axis": null}, "y": {"field": "y", "type": "quantitative", "axis": null}, "text": {"field": "t"}}}
 ]
},
{
 "width": 672, "height": 508,
 "resolve": {"axis": {"y": "independent"}},
 "layer": [
  {"data": {"name": "c"}, "mark": {"type": "line", "clip": true, "stroke": "#262a2c", "strokeWidth": 1.7},
   "encoding": {
    "x": {"field": "x", "type": "quantitative", "scale": {"domain": [-0.89, 0.89], "nice": false, "zero": false},
          "axis": {"orient": "bottom", "values": [-0.75,-0.5,-0.25,0,0.25,0.5,0.75], "tickSize": -15, "labelExpr": "(abs(datum.value) == 0.5 || datum.value == 0) ? replace('' + datum.value, '.', ',') : ''",
                   "labelFontSize": 23, "labelPadding": 27, "labelFlush": false, "labelOverlap": false,
                   "title": "Energieverlust [eV]", "titleFontSize": 24, "titleY": 66, "titleBaseline": "alphabetic"}},
    "y": {"field": "y", "type": "quantitative", "scale": {"domain": [-10.1, 80], "nice": false, "zero": false},
          "axis": {"orient": "left", "values": [-10,0,10,20,30,40,50,60,70,80], "tickSize": -11, "labels": false, "title": null}},
    "detail": {"field": "c", "type": "nominal"}
   }},
  {"data": {"name": "arr"}, "transform": [{"filter": "datum.p === 'c'"}], "mark": {"type": "rule", "opacity": 0},
   "encoding": {"x": {"field": "x1", "type": "quantitative"}, "x2": {"field": "x2"},
    "y": {"field": "y", "type": "quantitative", "axis": {"orient": "left", "values": [-5,5,15,25,35,45,55,65,75], "tickSize": -6, "domain": false, "labels": false, "title": null}}}},
  {"data": {"name": "arr"}, "transform": [{"filter": "datum.p === 'c'"}], "mark": {"type": "rule", "opacity": 0},
   "encoding": {"x": {"field": "x1", "type": "quantitative"}, "x2": {"field": "x2"},
    "y": {"field": "y", "type": "quantitative", "axis": {"orient": "right", "values": [0,10,20,30,40,50,60,70], "tickSize": -6, "domain": false, "labels": false, "title": null}}}},
  {"data": {"name": "arr"}, "transform": [{"filter": "datum.p === 'c'"}], "mark": {"type": "rule", "strokeWidth": 3, "color": "#231f20"},
   "encoding": {"x": {"field": "x1", "type": "quantitative"}, "x2": {"field": "x2"}, "y": {"field": "y", "type": "quantitative", "axis": null}}},
  {"data": {"name": "arr"}, "transform": [{"filter": "datum.p === 'c'"}], "mark": {"type": "point", "filled": true, "size": 324, "color": "#231f20", "opacity": 1, "strokeWidth": 0},
   "encoding": {"x": {"field": "x2", "type": "quantitative"}, "y": {"field": "y", "type": "quantitative", "axis": null},
    "shape": {"field": "dir", "type": "nominal", "scale": {"domain": ["r","l"], "range": ["M-1,-0.85L1,0L-1,0.85Z","M1,-0.85L-1,0L1,0.85Z"]}, "legend": null}}},
  {"data": {"name": "txt"}, "transform": [{"filter": "datum.p === 'c' && datum.k === 'p'"}], "mark": {"type": "text", "align": "left", "baseline": "middle", "fontSize": 24, "color": "#231f20"},
   "encoding": {"x": {"field": "x", "type": "quantitative"}, "y": {"field": "y", "type": "quantitative", "axis": null}, "text": {"field": "t"}}},
  {"data": {"name": "txt"}, "transform": [{"filter": "datum.p === 'c' && datum.k === 'w'"}], "mark": {"type": "text", "align": "left", "baseline": "middle", "fontSize": 22, "color": "#231f20"},
   "encoding": {"x": {"field": "x", "type": "quantitative"}, "y": {"field": "y", "type": "quantitative", "axis": null}, "text": {"field": "t"}}}
 ]
}
]
}
